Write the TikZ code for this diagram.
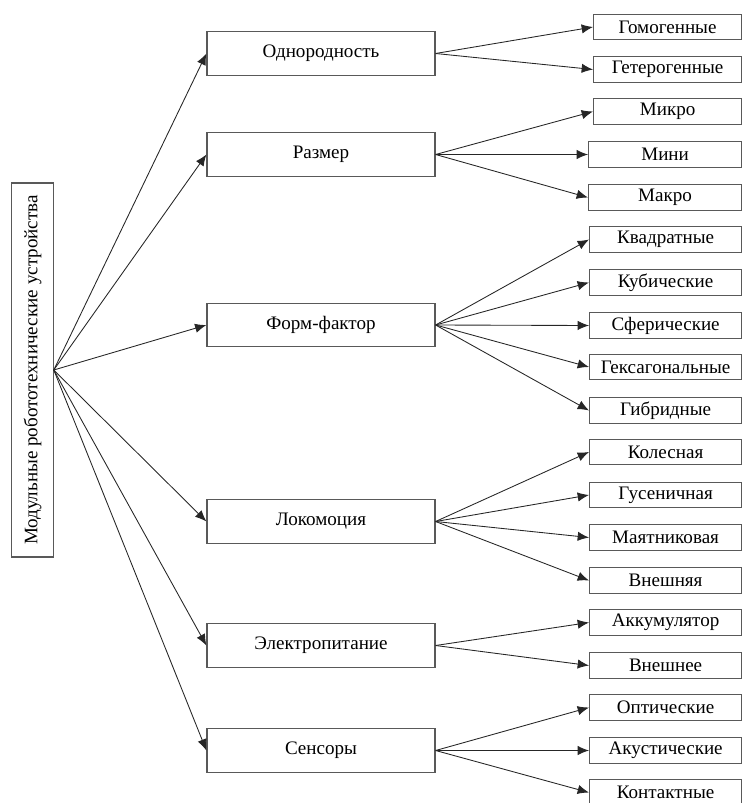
\documentclass[tikz,border=0pt]{standalone}
\usepackage{fontspec}
\setmainfont{Liberation Serif}
\usetikzlibrary{arrows.meta}
\tikzset{
  box/.style={draw=black!65, line width=.9pt, fill=white, inner sep=0pt,
    font=\fontsize{14.3}{16}\selectfont},
  midbox/.style={box, minimum width=171pt, minimum height=32.5pt},
  leafbox/.style={box, minimum height=19pt, anchor=west},
  link/.style={-{Latex[length=8.5pt,width=7pt]}, line width=.65pt, black!85}
}
\begin{document}
\begin{tikzpicture}[x=.75pt, y=-.75pt]
\useasboundingbox (0,0) rectangle (742,803);
\node[box, minimum width=280.5pt, minimum height=31pt, rotate=90] (root) at (32.5,370)
  {Модульные робототехнические устройства};
% second level
\foreach \name/\y/\txt in {odn/53.5/Однородность, razm/154.5/Размер,
  form/325/Форм-фактор, lok/521.5/Локомоция, elek/645.5/Электропитание,
  sens/750.5/Сенсоры}
{
    \node[midbox] (\name) at (321,\y) {\txt};
}
% third level
\foreach \name/\x/\y/\txt in {gomo/593/27/Гомогенные, getero/593/69.5/Гетерогенные,
  mikro/593/111.5/Микро, mini/588/154.5/Мини, makro/588/197.5/Макро,
  kvadr/589/239.5/Квадратные, kub/589/282.5/Кубические, sfer/589/325.5/Сферические,
  geks/589/367/Гексагональные, gibr/589/410.5/Гибридные,
  koles/589/452/Колесная, gusen/589/495/Гусеничная, mayat/589/537.5/Маятниковая,
  vneshn/589/580.5/Внешняя, akkum/589/622.5/Аккумулятор, vneshnee/589/665.5/Внешнее,
  opt/589/707.5/Оптические, akust/589/750.5/Акустические, kont/589/792.5/Контактные}
{
    \node[leafbox, minimum width={(741-\x)*0.75pt}] (\name) at (\x,\y) {\txt};
}
\foreach \m in {odn,razm,form,lok,elek,sens}
    \draw[link](root.south)--(\m.west);
\foreach \m/\l in {odn/gomo, odn/getero, razm/mikro, razm/mini, razm/makro,
  form/kvadr, form/kub, form/sfer, form/geks, form/gibr,
  lok/koles, lok/gusen, lok/mayat, lok/vneshn, elek/akkum, elek/vneshnee,
  sens/opt, sens/akust, sens/kont}
    \draw[link](\m.east)--(\l.west);
\end{tikzpicture}
\end{document}
